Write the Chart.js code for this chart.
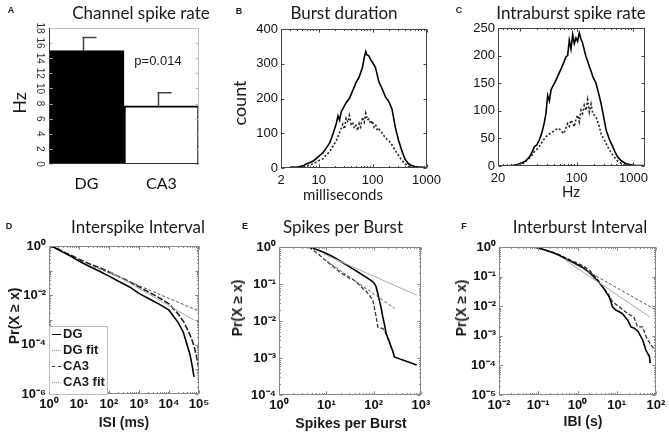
<!DOCTYPE html>
<html>
<head>
<meta charset="utf-8">
<title>Spike and burst statistics</title>
<script src="https://cdn.jsdelivr.net/npm/chart.js@4.4.1/dist/chart.umd.min.js"></script>
<style>
  body { margin: 0; background: #fff; }
  #page { position: relative; width: 669px; height: 435px; overflow: hidden; font-family: "Liberation Sans", Arial, sans-serif; color: #1a1a1a; }
  #page canvas { position: absolute; }
  .txt { position: absolute; white-space: nowrap; transform: translate(-50%, -50%); line-height: 1; }
  .title { font-family: Lato, "Open Sans", sans-serif; font-size: 17px; }
  .letter { font-weight: bold; font-size: 9px; }
  .lab { font-family: Lato, "Open Sans", sans-serif; font-size: 15px; }
  .big { font-size: 18px; }
  .vert { transform: translate(-50%, -50%) rotate(-90deg); }
  .blab { font-weight: bold; font-size: 14px; }
  #legend { position: absolute; left: 49px; top: 326px; width: 57px; height: 67px; border: 1px solid #bbb; background: #fff; }
  #legend div { position: absolute; left: 2px; font-weight: bold; font-size: 13px; line-height: 1; white-space: nowrap; }
  #legend span { display: inline-block; width: 9px; height: 0; margin-right: 2px; vertical-align: middle; }
</style>
</head>
<body>
<div id="page">
  <canvas id="cA"></canvas>
  <canvas id="cB"></canvas>
  <canvas id="cC"></canvas>
  <canvas id="cD"></canvas>
  <canvas id="cE"></canvas>
  <canvas id="cF"></canvas>

  <div class="txt letter" style="left:11px;top:10px">A</div>
  <div class="txt letter" style="left:239px;top:11px">B</div>
  <div class="txt letter" style="left:459px;top:10px">C</div>
  <div class="txt letter" style="left:9px;top:226px">D</div>
  <div class="txt letter" style="left:245px;top:226px">E</div>
  <div class="txt letter" style="left:464px;top:226px">F</div>

  <div class="txt title" style="left:141px;top:12px">Channel spike rate</div>
  <div class="txt title" style="left:344px;top:12px">Burst duration</div>
  <div class="txt title" style="left:571px;top:12px">Intraburst spike rate</div>
  <div class="txt title" style="left:138px;top:226px">Interspike Interval</div>
  <div class="txt title" style="left:343px;top:226px">Spikes per Burst</div>
  <div class="txt title" style="left:580px;top:226px">Interburst Interval</div>

  <div class="txt lab big vert" style="left:19px;top:103px">Hz</div>
  <div class="txt" style="left:158px;top:60px;font-size:13px">p=0.014</div>
  <div class="txt lab big vert" style="left:239px;top:103px">count</div>
  <div class="txt lab" style="left:343px;top:194px">milliseconds</div>
  <div class="txt lab" style="left:571px;top:191px">Hz</div>

  <div class="txt blab vert" style="left:14px;top:316px">Pr(X ≥ x)</div>
  <div class="txt blab vert" style="left:237px;top:308px">Pr(X ≥ x)</div>
  <div class="txt blab vert" style="left:461px;top:308px">Pr(X ≥ x)</div>
  <div class="txt blab" style="left:124px;top:422px">ISI (ms)</div>
  <div class="txt blab" style="left:351px;top:423px">Spikes per Burst</div>
  <div class="txt blab" style="left:583px;top:421px">IBI (s)</div>

  <div id="legend">
    <div style="top:0px"><span style="border-top:1.5px solid #000"></span>DG</div>
    <div style="top:16px"><span style="border-top:1px dotted #999"></span>DG fit</div>
    <div style="top:32px"><span style="border-top:1.5px dashed #333"></span>CA3</div>
    <div style="top:48px"><span style="border-top:1px dotted #999"></span>CA3 fit</div>
  </div>
</div>

<script>
// A - channel spike rate
const regions = ["DG", "CA3"];
const rateHz = [15.0, 7.7];
const rateErr = [1.75, 1.73];
const rateTicks = [0, 2, 4, 6, 8, 10, 12, 14, 16, 18];

// B - burst duration histogram (ms, count)
const burstMsDG = [3.0, 3.4, 3.9, 4.5, 5.2, 6.0, 6.9, 7.9, 9.1, 10.5, 12.1, 13.9, 16, 18.4, 21.2, 22.8, 24.4, 26.2, 28, 32.2, 37, 42.6, 49, 56.4, 64.9, 70, 74.6, 78, 85.8, 92, 98.7, 113.5, 130.6, 150.2, 172.8, 198.7, 228.6, 262.9, 302.4, 347.9, 400.2, 460.4, 529.6, 609.2, 700.8, 806.2, 927.4];
const burstCountDG = [2, 3, 2, 4, 7, 12, 16, 20, 28, 36, 45, 58, 72, 98, 128, 150, 138, 162, 170, 188, 200, 222, 245, 262, 290, 318, 335, 326, 322, 312, 305, 288, 248, 228, 205, 192, 170, 118, 80, 50, 25, 12, 7, 4, 3, 2, 2];
const burstMsCA3 = [5.2, 6.0, 6.9, 7.9, 9.1, 10.5, 12.1, 13.9, 16, 18.4, 21.2, 24.4, 28, 30, 32.2, 35, 37, 40, 42.6, 46, 49, 53, 56.4, 60, 64.9, 70, 74.6, 80, 85.8, 92, 98.7, 106, 113.5, 122, 130.6, 150.2, 172.8, 198.7, 228.6, 262.9, 302.4, 347.9, 400.2, 460.4, 529.6];
const burstCountCA3 = [3, 6, 8, 13, 17, 23, 27, 38, 47, 63, 78, 102, 126, 112, 143, 132, 151, 126, 131, 114, 122, 108, 128, 118, 146, 132, 157, 138, 141, 127, 136, 118, 125, 108, 112, 101, 86, 79, 66, 51, 36, 22, 12, 5, 2];
const burstXTicks = [2, 10, 100, 1000];
const burstYTicks = [0, 100, 200, 300, 400];

// C - intraburst spike rate histogram (Hz, count)
const rateHzDG = [6.5, 7.5, 8.6, 9.7, 11, 12.5, 14.6, 16.2, 17.9, 19.8, 21.9, 23.4, 25, 26.8, 28.7, 30.8, 33, 35.3, 37.7, 41.6, 46, 50.9, 56.6, 60.6, 64.8, 69.3, 74, 79.3, 85, 90.8, 97, 103.8, 111, 118.8, 127, 136.2, 146, 156, 167, 179, 192, 205, 219, 243, 269, 298, 330, 377, 432, 480, 530, 620, 740, 900, 1110, 1350, 1560];
const rateCountDG = [1, 1, 2, 4, 6, 9, 16, 24, 35, 38, 47, 55, 65, 78, 95, 128, 118, 138, 144, 152, 162, 172, 183, 190, 198, 200, 228, 212, 238, 222, 232, 226, 241, 230, 223, 210, 198, 190, 180, 172, 162, 156, 150, 132, 113, 90, 65, 48, 35, 24, 16, 9, 4, 2, 1, 1, 1];
const rateHzCA3 = [11, 12.5, 14.6, 16.2, 17.9, 19.8, 21.9, 25, 28.7, 33, 37.7, 43, 49, 54.6, 60, 64.8, 69.3, 74, 79.3, 85, 90.8, 97, 104, 111, 119, 127, 136, 146, 156, 167, 179, 192, 205, 219, 235, 251, 270, 307, 340, 377, 420, 463, 510, 566, 650, 740];
const rateCountCA3 = [4, 8, 14, 19, 26, 30, 35, 45, 53, 58, 62, 66, 68, 62, 59, 70, 77, 72, 83, 78, 71, 85, 92, 80, 101, 95, 110, 101, 120, 98, 112, 95, 92, 89, 80, 71, 58, 47, 38, 29, 22, 16, 10, 7, 3, 1];
const rateXMin = 4.1;
const rateXTicks = [rateXMin, 100, 1000];
const rateXLabels = ["20", "100", "1000"];
const rateYTicks = [0, 50, 100, 150, 200, 250];

// D - interspike interval CCDF
const isiDG = [1, 1.5, 2, 3, 5, 10, 20, 50, 100, 200, 500, 1000, 2000, 5000, 10000, 20000, 30000, 40000, 50000, 60000, 68000];
const isiPrDG = [1, 0.87, 0.72, 0.55, 0.40, 0.245, 0.158, 0.093, 0.060, 0.038, 0.0214, 0.012, 7.6e-3, 4.2e-3, 2.5e-3, 8e-4, 3.2e-4, 1.0e-4, 4.0e-5, 1.3e-5, 5.0e-6];
const isiCA3 = [1, 1.5, 2, 3, 5, 10, 20, 50, 100, 200, 500, 1000, 2000, 5000, 10000, 20000, 30000, 40000, 50000, 60000, 70000, 80000, 90000, 100000];
const isiPrCA3 = [1, 0.89, 0.76, 0.59, 0.44, 0.29, 0.20, 0.129, 0.091, 0.060, 0.035, 0.022, 0.014, 7.6e-3, 4.5e-3, 1.8e-3, 8.9e-4, 4.5e-4, 2.5e-4, 1.4e-4, 7.9e-5, 4.0e-5, 2.0e-5, 1.0e-5];
const isiFitDG = [100, 68000];
const isiFitPrDG = [0.095, 1.0e-3];
const isiFitCA3 = [30, 100000];
const isiFitPrCA3 = [0.15, 2.3e-3];
const isiXTicks = [1, 10, 100, 1e3, 1e4, 1e5];
const isiYTicks = [1e-6, 1e-4, 1e-2, 1];

// E - spikes per burst CCDF
const spbDG = [4.3, 6, 8.5, 12, 16, 22, 31, 43, 59, 80, 96, 105, 113, 122, 132, 144, 156, 170, 183, 205, 234, 250, 275, 400, 600, 810];
const spbPrDG = [1, 0.87, 0.73, 0.60, 0.49, 0.38, 0.29, 0.224, 0.174, 0.135, 0.115, 0.10, 0.083, 0.056, 0.036, 0.0224, 0.0129, 7.9e-3, 4.6e-3, 3.2e-3, 2.0e-3, 1.6e-3, 1.07e-3, 8.9e-4, 7.4e-4, 6.5e-4];
const spbCA3 = [4.3, 5.5, 7.2, 9, 11.7, 15, 19, 25, 31, 37, 43, 50, 59, 70, 81, 96, 104, 113, 122, 135, 156, 183, 216];
const spbPrCA3 = [1, 0.79, 0.60, 0.47, 0.355, 0.275, 0.214, 0.17, 0.141, 0.132, 0.115, 0.093, 0.076, 0.063, 0.050, 0.036, 0.0224, 0.0129, 6.9e-3, 6.5e-3, 6.3e-3, 4.6e-3, 2.5e-3];
const spbFitDG = [8.5, 810];
const spbFitPrDG = [0.66, 0.050];
const spbFitCA3 = [8.5, 275];
const spbFitPrCA3 = [0.49, 0.022];
const spbXTicks = [1, 10, 100, 1000];
const spbYTicks = [1e-4, 1e-3, 1e-2, 1e-1, 1];

// F - interburst interval CCDF (s)
const ibiDG = [0.078, 0.1, 0.155, 0.25, 0.34, 0.5, 0.74, 1.0, 1.35, 2.0, 2.95, 4.4, 6.5, 7.8, 9.5, 14, 19, 23, 28, 35, 46, 55, 68, 71];
const ibiPrDG = [1, 0.93, 0.78, 0.63, 0.525, 0.40, 0.31, 0.25, 0.204, 0.138, 0.083, 0.045, 0.020, 9.5e-3, 7.4e-3, 5.6e-3, 3.4e-3, 2.0e-3, 1.8e-3, 1.4e-3, 7.1e-4, 3.3e-4, 2.0e-4, 1.2e-4];
const ibiCA3 = [0.078, 0.1, 0.155, 0.25, 0.34, 0.5, 0.74, 1.0, 1.35, 2.0, 2.95, 4.4, 6.5, 7.8, 11.5, 19, 27, 34, 46, 52, 62, 70, 100];
const ibiPrCA3 = [1, 0.93, 0.79, 0.65, 0.55, 0.43, 0.34, 0.28, 0.234, 0.166, 0.095, 0.047, 0.022, 0.0141, 9.5e-3, 5.6e-3, 4.4e-3, 2.0e-3, 2.0e-3, 1.2e-3, 7.1e-4, 5.6e-4, 2.8e-4];
const ibiFitDG = [0.5, 69];
const ibiFitPrDG = [0.355, 4.4e-3];
const ibiFitCA3 = [0.5, 100];
const ibiFitPrCA3 = [0.40, 7.4e-3];
const ibiXTicks = [0.01, 0.1, 1, 10, 100];
const ibiYTicks = [1e-5, 1e-4, 1e-3, 1e-2, 1e-1, 1];

const sup = { "-": "\u207B", "0": "\u2070", "1": "\u00B9", "2": "\u00B2", "3": "\u00B3", "4": "\u2074", "5": "\u2075", "6": "\u2076" };

function powerLabel(v) {
    const e = Math.round(Math.log10(v));
    return "10" + String(e).split("").map((ch) => sup[ch]).join("");
}

// box around the plot area with small inward tick marks (matlab style)
function tickMarks(scale) {
    const out = scale.ticks.map((t) => [t.value, 3]);
    if (scale.type === "logarithmic") {
        const lo = Math.floor(Math.log10(scale.min));
        const hi = Math.ceil(Math.log10(scale.max));
        for (let e = lo; e < hi; e++) {
            for (let k = 1; k < 10; k++) {
                const v = k * Math.pow(10, e);
                if (v <= scale.min || v >= scale.max) continue;
                if (k === 1) out.push([v, 3]);
                else out.push([v, 1.5]);
            }
        }
    }
    return out;
}

const frame = {
    id: "frame",
    afterDatasetsDraw(chart, args, opts) {
        const ctx = chart.ctx;
        const a = chart.chartArea;
        const l = Math.round(a.left) + 0.5, r = Math.round(a.right) - 0.5;
        const t = Math.round(a.top) + 0.5, b = Math.round(a.bottom) - 0.5;
        ctx.save();
        ctx.strokeStyle = opts.color || "#555";
        ctx.lineWidth = 1;
        ctx.strokeRect(l, t, r - l, b - t);
        ctx.beginPath();
        if (opts.xTicks !== false) {
            tickMarks(chart.scales.x).forEach(([v, len]) => {
                const p = Math.round(chart.scales.x.getPixelForValue(v)) + 0.5;
                ctx.moveTo(p, b); ctx.lineTo(p, b - len);
                ctx.moveTo(p, t); ctx.lineTo(p, t + len);
            });
        }
        tickMarks(chart.scales.y).forEach(([v, len]) => {
            const p = Math.round(chart.scales.y.getPixelForValue(v)) + 0.5;
            ctx.moveTo(l, p); ctx.lineTo(l + len, p);
            ctx.moveTo(r, p); ctx.lineTo(r - len, p);
        });
        ctx.stroke();
        if (opts.leftColor) {
            ctx.strokeStyle = opts.leftColor;
            ctx.beginPath();
            ctx.moveTo(l, t); ctx.lineTo(l, b); ctx.lineTo(r, b);
            ctx.stroke();
        }
        ctx.restore();
    }
};

const errBars = {
    id: "errBars",
    afterDatasetsDraw(chart) {
        const ctx = chart.ctx;
        const y = chart.scales.y;
        const meta = chart.getDatasetMeta(0);
        ctx.save();
        ctx.strokeStyle = "#444";
        ctx.lineWidth = 1.5;
        meta.data.forEach((bar, i) => {
            const x = Math.round(bar.x - 4) + 0.5;
            const top = y.getPixelForValue(rateHz[i] + rateErr[i]);
            ctx.beginPath();
            ctx.moveTo(x, bar.y);
            ctx.lineTo(x, top);
            ctx.moveTo(x - 1, top);
            ctx.lineTo(x + 13, top);
            ctx.stroke();
        });
        ctx.restore();
    }
};

// canvas box on the page and the wanted plot area [left, top, right, bottom]
function setup(id, box, plot) {
    const c = document.getElementById(id);
    c.width = box[2];
    c.height = box[3];
    c.style.left = box[0] + "px";
    c.style.top = box[1] + "px";
    c.style.width = box[2] + "px";
    c.style.height = box[3] + "px";
    return {
        canvas: c,
        padding: { left: 0, bottom: 0, top: plot[1] - box[1], right: box[0] + box[2] - plot[2] },
        yWidth: plot[0] - box[0],
        xHeight: box[1] + box[3] - plot[3]
    };
}

function axis(type, min, max, ticks, font, pad, labels) {
    return {
        type: type,
        min: min,
        max: max,
        grid: { display: false, drawTicks: false },
        border: { display: false },
        afterBuildTicks: (s) => { s.ticks = ticks.map((v) => ({ value: v })); },
        ticks: {
            autoSkip: false,
            maxRotation: 0,
            padding: pad,
            color: "#111",
            font: font,
            callback: labels ? (v, i) => labels[i] : (type === "logarithmic" ? (v) => powerLabel(v) : (v) => String(v))
        }
    };
}

function curve(xs, ys, color, width, dash) {
    return {
        data: xs.map((x, i) => ({ x: x, y: ys[i] })),
        borderColor: color,
        borderWidth: width,
        borderDash: dash || [],
        pointRadius: 0,
        tension: 0,
        fill: false
    };
}

function lineChart(id, box, plot, xAxis, yAxis, datasets, frameColor) {
    const s = setup(id, box, plot);
    xAxis.afterFit = (sc) => { sc.height = s.xHeight; };
    yAxis.afterFit = (sc) => { sc.width = s.yWidth; };
    return new Chart(s.canvas, {
        type: "line",
        data: { datasets: datasets },
        options: {
            responsive: false,
            animation: false,
            layout: { padding: s.padding },
            scales: { x: xAxis, y: yAxis },
            plugins: { legend: { display: false }, tooltip: { enabled: false }, frame: { color: frameColor } }
        },
        plugins: [frame]
    });
}

const tickFont = { family: "Liberation Sans", size: 13 };
const powFont = { family: "Liberation Sans", size: 13, weight: "bold" };

// panel A
(function () {
    const s = setup("cA", [0, 0, 223, 200], [49, 28, 199, 164]);
    const yAx = axis("linear", 0, 18, rateTicks, { family: "Liberation Sans", size: 10 }, 4);
    yAx.ticks.minRotation = -90;
    yAx.ticks.maxRotation = -90;
    yAx.ticks.crossAlign = "center";
    yAx.ticks.color = "#333";
    yAx.afterFit = (sc) => { sc.width = s.yWidth; };
    new Chart(s.canvas, {
        type: "bar",
        data: {
            labels: regions,
            datasets: [{
                data: rateHz,
                backgroundColor: ["#000", "#fff"],
                borderColor: "#000",
                borderWidth: 2,
                borderSkipped: "bottom",
                barPercentage: 1,
                categoryPercentage: 1
            }]
        },
        options: {
            responsive: false,
            animation: false,
            layout: { padding: s.padding },
            scales: {
                x: {
                    grid: { display: false, drawTicks: false },
                    border: { display: false },
                    ticks: { padding: 10, color: "#111", font: { family: "Lato", size: 16 } },
                    afterFit: (sc) => { sc.height = s.xHeight; }
                },
                y: yAx
            },
            plugins: {
                legend: { display: false },
                tooltip: { enabled: false },
                frame: { color: "#bbb", xTicks: false, leftColor: "#333" }
            }
        },
        plugins: [frame, errBars]
    });
})();

// panel B
lineChart("cB", [223, 0, 223, 200], [281, 29, 430, 168],
    axis("logarithmic", 2, 1000, burstXTicks, tickFont, 5, ["2", "10", "100", "1000"]),
    axis("linear", 0, 400, burstYTicks, tickFont, 3),
    [
        curve(burstMsDG, burstCountDG, "#000", 1.6),
        curve(burstMsCA3, burstCountCA3, "#222", 1.6, [2, 2])
    ], "#444");

// panel C
lineChart("cC", [446, 0, 223, 200], [498, 28, 645, 166],
    axis("logarithmic", rateXMin, 1600, rateXTicks, tickFont, 5, rateXLabels),
    axis("linear", 0, 250, rateYTicks, tickFont, 3),
    [
        curve(rateHzDG, rateCountDG, "#000", 1.6),
        curve(rateHzCA3, rateCountCA3, "#222", 1.6, [2, 2])
    ], "#444");

// panel D
lineChart("cD", [0, 200, 223, 235], [49, 246, 199, 394],
    axis("logarithmic", 1, 1e5, isiXTicks, powFont, 3),
    axis("logarithmic", 1e-6, 1, isiYTicks, powFont, 3),
    [
        curve(isiFitDG, isiFitPrDG, "#aaa", 1),
        curve(isiFitCA3, isiFitPrCA3, "#555", 1, [3, 2]),
        curve(isiDG, isiPrDG, "#000", 1.6),
        curve(isiCA3, isiPrCA3, "#222", 1.6, [6, 2])
    ], "#888");

// panel E
lineChart("cE", [223, 200, 223, 235], [279, 247, 421, 395],
    axis("logarithmic", 1, 1000, spbXTicks, powFont, 3),
    axis("logarithmic", 1e-4, 1, spbYTicks, powFont, 3),
    [
        curve(spbFitDG, spbFitPrDG, "#aaa", 1),
        curve(spbFitCA3, spbFitPrCA3, "#555", 1, [3, 2]),
        curve(spbDG, spbPrDG, "#000", 1.6),
        curve(spbCA3, spbPrCA3, "#333", 1.3, [4, 2])
    ], "#888");

// panel F
lineChart("cF", [446, 200, 223, 235], [499, 247, 656, 395],
    axis("logarithmic", 0.01, 100, ibiXTicks, powFont, 3),
    axis("logarithmic", 1e-5, 1, ibiYTicks, powFont, 3),
    [
        curve(ibiFitDG, ibiFitPrDG, "#aaa", 1),
        curve(ibiFitCA3, ibiFitPrCA3, "#555", 1, [3, 2]),
        curve(ibiDG, ibiPrDG, "#000", 1.6),
        curve(ibiCA3, ibiPrCA3, "#333", 1.3, [4, 2])
    ], "#888");
</script>
</body>
</html>
